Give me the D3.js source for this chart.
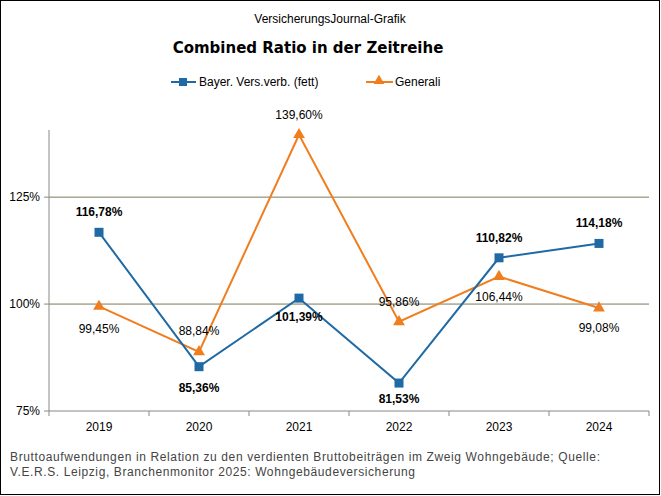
<!DOCTYPE html>
<html><head><meta charset="utf-8">
<script src="https://cdn.jsdelivr.net/npm/d3@7"></script>
<style>body{margin:0;background:#fff}text{font-family:"Liberation Sans",Arial,sans-serif}</style>
</head><body><div id="chart"></div>
<script>
const years = ['2019', '2020', '2021', '2022', '2023', '2024'];
const bayer = [116.78, 85.36, 101.39, 81.53, 110.82, 114.18];
const generali = [99.45, 88.84, 139.60, 95.86, 106.44, 99.08];
const yTicks = [75, 100, 125];

const blue = '#1f6aa5', orange = '#f07d1e';
const fmt = v => d3.format('.2f')(v).replace('.', ',') + '%';

const svg = d3.select('#chart').append('svg').attr('width', 661).attr('height', 496);
svg.append('rect').attr('x', 0.5).attr('y', 0.5).attr('width', 659).attr('height', 494)
   .attr('fill', '#fff').attr('stroke', '#000');

const x = d3.scaleBand().domain(years).range([49, 649]);
const y = d3.scaleLinear().domain([75, 140]).range([411, 133]);
const cx = d => x(d) + x.bandwidth() / 2;

// gridlines
svg.selectAll('.grid').data(yTicks.slice(1)).enter().append('line')
   .attr('x1', 49).attr('x2', 649).attr('y1', d => y(d)).attr('y2', d => y(d))
   .attr('stroke', '#7a7a5a').attr('stroke-width', 1);

// axes
svg.append('line').attr('x1', 49).attr('x2', 49).attr('y1', 130).attr('y2', 411).attr('stroke', '#888');
svg.append('line').attr('x1', 49).attr('x2', 649).attr('y1', 411).attr('y2', 411).attr('stroke', '#888');
svg.selectAll('.xt').data(years.concat(['end'])).enter().append('line')
   .attr('x1', (d, i) => 49 + i * x.bandwidth()).attr('x2', (d, i) => 49 + i * x.bandwidth())
   .attr('y1', 411).attr('y2', 416).attr('stroke', '#888');
svg.selectAll('.yt').data(yTicks).enter().append('line')
   .attr('x1', 44).attr('x2', 49).attr('y1', d => y(d)).attr('y2', d => y(d)).attr('stroke', '#888');
svg.selectAll('.yl').data(yTicks).enter().append('text')
   .attr('x', 40).attr('y', d => y(d) + 4).attr('text-anchor', 'end').attr('font-size', 12)
   .text(d => d + '%');
svg.selectAll('.xl').data(years).enter().append('text')
   .attr('x', cx).attr('y', 431).attr('text-anchor', 'middle').attr('font-size', 12).text(d => d);

// lines
const line = vals => d3.line().x((d, i) => cx(years[i])).y(d => y(d))(vals);
svg.append('path').attr('d', line(generali)).attr('fill', 'none').attr('stroke', orange).attr('stroke-width', 2);
svg.append('path').attr('d', line(bayer)).attr('fill', 'none').attr('stroke', blue).attr('stroke-width', 2);

const tri = d3.symbol().type(d3.symbolTriangle).size(60);
svg.selectAll('.gm').data(generali).enter().append('path')
   .attr('d', tri).attr('fill', orange)
   .attr('transform', (d, i) => `translate(${cx(years[i])},${y(d)})`);
svg.selectAll('.bm').data(bayer).enter().append('rect')
   .attr('x', (d, i) => cx(years[i]) - 4.5).attr('y', d => y(d) - 4.5)
   .attr('width', 9).attr('height', 9).attr('fill', blue);

// labels
const bayerDy = [-16, 25, 23, 20, -16, -16];
const genDy = [27, -17, -16, -16, 24, 24];
svg.selectAll('.bl').data(bayer).enter().append('text')
   .attr('x', (d, i) => cx(years[i])).attr('y', (d, i) => y(d) + bayerDy[i])
   .attr('text-anchor', 'middle').attr('font-size', 12).attr('font-weight', 'bold').text(fmt);
svg.selectAll('.gl').data(generali).enter().append('text')
   .attr('x', (d, i) => cx(years[i])).attr('y', (d, i) => y(d) + genDy[i])
   .attr('text-anchor', 'middle').attr('font-size', 12).text(fmt);

// titles
svg.append('text').attr('x', 330).attr('y', 23).attr('text-anchor', 'middle').attr('font-size', 12)
   .text('VersicherungsJournal-Grafik');
svg.append('text').attr('x', 308).attr('y', 53).attr('text-anchor', 'middle')
   .style('font-family', '"DejaVu Sans", sans-serif').style('font-size', '15px').style('font-weight', 'bold')
   .text('Combined  Ratio in der Zeitreihe');

// legend
const lg = svg.append('g');
lg.append('line').attr('x1', 171).attr('x2', 196).attr('y1', 82).attr('y2', 82).attr('stroke', blue).attr('stroke-width', 2);
lg.append('rect').attr('x', 179).attr('y', 78).attr('width', 8).attr('height', 8).attr('fill', blue);
lg.append('text').attr('x', 199).attr('y', 86).attr('font-size', 12).text('Bayer. Vers.verb. (fett)');
lg.append('line').attr('x1', 366).attr('x2', 393).attr('y1', 82).attr('y2', 82).attr('stroke', orange).attr('stroke-width', 2);
lg.append('path').attr('d', d3.symbol().type(d3.symbolTriangle).size(50)).attr('fill', orange)
  .attr('transform', 'translate(379,81)');
lg.append('text').attr('x', 395).attr('y', 86).attr('font-size', 12).text('Generali');

// footnote
svg.append('text').attr('x', 10).attr('y', 461).attr('font-size', 12).attr('fill', '#444')
   .attr('textLength', 590).text('Bruttoaufwendungen  in Relation zu den verdienten  Bruttobeiträgen  im Zweig  Wohngebäude;  Quelle:');
svg.append('text').attr('x', 10).attr('y', 476).attr('font-size', 12).attr('fill', '#444')
   .attr('textLength', 405).text('V.E.R.S. Leipzig, Branchenmonitor  2025:  Wohngebäudeversicherung');
</script></body></html>
